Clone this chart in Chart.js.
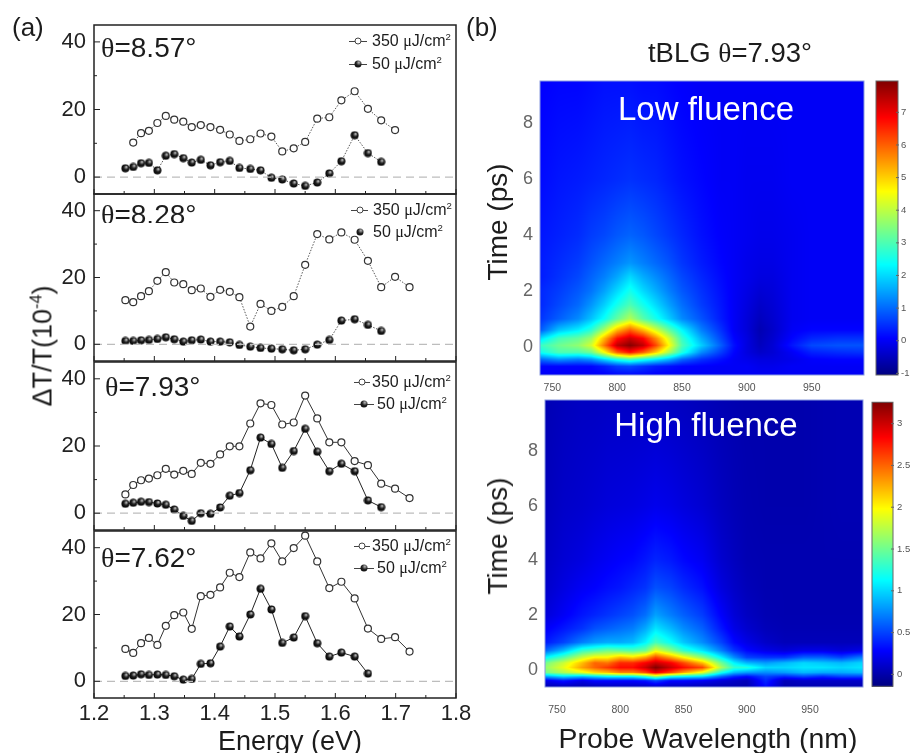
<!DOCTYPE html>
<html>
<head>
<meta charset="utf-8">
<title>tBLG transient transmission</title>
<script src="https://cdn.jsdelivr.net/npm/chart.js@4"></script>
<style>
    html, body { margin: 0; padding: 0; background: #fff; }
    #page { position: relative; width: 911px; height: 753px; overflow: hidden; font-family: "Liberation Sans", Arial, sans-serif; color: #1c1c1c; filter: blur(0.4px); }
    #page canvas { position: absolute; }
    .note { position: absolute; white-space: nowrap; line-height: 1; transform: translateY(-50%); }
    .turn { transform: translate(-50%, -50%) rotate(-90deg); }
    .mid { transform: translate(-50%, -50%); }
    .sym { font-family: "Liberation Serif", serif; }
    sup { font-size: 60%; line-height: 0; }
    .key { position: absolute; height: 1px; background: #444; }
    .dot { position: absolute; width: 7px; height: 7px; border-radius: 50%; box-sizing: border-box; transform: translate(-50%, -50%); }
    .hollow { background: #fff; border: 1px solid #444; }
    .ball { background: radial-gradient(circle at 62% 30%, #bbb, #222 42%, #000); }
</style>
</head>
<body>
<div id="page"></div>
<script>
    // photon energy of every probe point, eV
    var energies = [1.252, 1.265, 1.278, 1.291, 1.305, 1.319, 1.333, 1.348, 1.362, 1.377, 1.393, 1.409, 1.425, 1.441,
                    1.459, 1.476, 1.494, 1.512, 1.531, 1.550, 1.570, 1.590, 1.610, 1.632, 1.654, 1.676, 1.699, 1.723];

    var high857 = [null, 10.2, 13, 13.7, 16, 18.1, 17, 16.4, 14.8, 15.4, 14.8, 14, 12.6, 10.7, 11.2, 12.9, 12, 7.6, 8.5, 10.4, 17.3, 17.7, 22.7, 25.4, 20.2, 16.8, 13.9, null];
    var low857 = [2.6, 3, 4.1, 4.2, 2, 6.3, 6.8, 5.6, 4.3, 5.1, 3.5, 4.4, 4.8, 2.7, 2.4, 2, -0.2, -0.7, -1.9, -2.6, -1.6, 1.1, 4.7, 12.4, 7.1, 4.5, null, null];
    var high828 = [13.2, 12.6, 14.4, 15.9, 19, 21.6, 18.5, 18, 16.2, 16.7, 14.2, 16.3, 15.7, 14.1, 5.3, 12.1, 10, 11.2, 14.4, 23.8, 33, 31.4, 33.5, 31.3, 25, 17.1, 20.2, 17.1];
    var low828 = [1, 1, 1.2, 1.3, 1.6, 2.1, 1.5, 0.8, 1.2, 1.4, 0.8, 0.8, 0.6, -0.2, -0.7, -1.1, -1.3, -1.5, -1.8, -1.5, -0.1, 1.3, 7.1, 7.5, 5.8, 4, null, null];
    var high793 = [5.6, 8.4, 9.8, 10.3, 11.3, 13.2, 11.5, 12.6, 11.7, 15, 14.7, 17.5, 19.9, 19.9, 26.7, 32.7, 32.2, 26.4, 27, 35, 28.2, 21.1, 21.1, 15.5, 14.3, 8.8, 7.3, 4.5];
    var low793 = [2.8, 3.1, 3.4, 3.3, 2.9, 2.5, 1.1, -0.8, -2.3, 0, -0.2, 1.7, 5.2, 6, 12.8, 22.5, 20.6, 13.5, 18.5, 25.1, 18.3, 12.5, 14.7, 12.5, 3.8, 1.8, null, null];
    var high762 = [9.7, 8.5, 11.4, 13, 10.9, 16.6, 19.8, 20.6, 15.7, 25.5, 25.9, 28.1, 32.5, 31.2, 38.6, 36.8, 41.3, 35.9, 39.9, 43.6, 35.9, 27.9, 29.8, 24.8, 15.8, 12.7, 13.2, 8.9];
    var low762 = [1.6, 1.7, 2.1, 1.9, 2, 1.9, 1.5, 0.5, 0.7, 5.2, 5.4, 10.4, 16.4, 13.4, 20, 27.7, 21.5, 11.5, 13.1, 19.5, 11.4, 7.4, 8.6, 7.4, 2.3, null, null, null];

    var energyTicks = [1.2, 1.25, 1.3, 1.35, 1.4, 1.45, 1.5, 1.55, 1.6, 1.65, 1.7, 1.75, 1.8];
    var signalTicks = [0, 10, 20, 30, 40];
    var timeTicks = [0, 2, 4, 6, 8];
    var waveTicks = [750, 800, 850, 900, 950];
    var lowBarTicks = [-1, 0, 1, 2, 3, 4, 5, 6, 7];
    var highBarTicks = [0, 0.5, 1, 1.5, 2, 2.5, 3];

    // low fluence map, one row per time
    var lowWaves = [740, 755, 770, 780, 790, 800, 810, 820, 830, 840, 850, 865, 880, 890, 900, 910, 920, 935, 950, 970, 991];
    var lowTimes = [-1.05, -0.7, -0.45, -0.2, 0.05, 0.3, 0.6, 1, 1.5, 2, 2.5, 3, 4, 6, 9.6];
    var lowMap = [
        [0, 0, 0, 0, 0, .05, .05, .05, 0, 0, 0, 0, 0, 0, 0, 0, 0, 0, 0, 0, 0],
        [.1, .1, .1, .1, .3, .6, .7, .5, .3, .2, .1, .05, 0, 0, 0, -.1, -.1, 0, 0, 0, 0],
        [1, 1.4, 1.2, 1.4, 2, 2.6, 3, 2.6, 2.2, 1.7, 1, .5, .2, 0, -.1, -.2, -.2, -.1, .05, .1, .1],
        [2.4, 3, 3, 3.3, 4.5, 6, 6.7, 6, 5, 3.8, 2.6, 1.3, .6, .1, -.2, -.4, -.3, 0, .35, .45, .5],
        [2.8, 3.3, 3.6, 4.2, 5.8, 7.4, 7.9, 7.4, 6.2, 4.6, 3, 1.9, .9, .2, -.2, -.5, -.3, .25, .7, .8, .8],
        [2, 2.9, 3.2, 3.7, 5.2, 6.7, 7.3, 6.8, 5.6, 4.2, 2.8, 1.6, .7, .1, -.2, -.55, -.35, .1, .4, .5, .5],
        [.8, 1.8, 2.2, 2.7, 3.8, 5.2, 6, 5.2, 4.2, 3.2, 2.3, 1.2, .5, 0, -.25, -.6, -.4, 0, .1, .1, .1],
        [.5, .9, 1.3, 1.8, 2.4, 3.2, 3.9, 3.1, 2.5, 1.9, 1.3, .8, .3, 0, -.25, -.5, -.35, -.05, 0, 0, 0],
        [.4, .7, 1, 1.4, 1.9, 2.5, 3, 2.5, 2, 1.5, 1.05, .6, .25, 0, -.2, -.4, -.3, -.05, 0, 0, 0],
        [.4, .6, .85, 1.1, 1.5, 2, 2.5, 2, 1.6, 1.2, .85, .5, .2, 0, -.15, -.3, -.25, -.05, 0, 0, 0],
        [.3, .5, .7, .95, 1.2, 1.55, 2, 1.6, 1.3, 1, .7, .4, .15, 0, -.1, -.2, -.2, -.05, 0, 0, 0],
        [.3, .45, .6, .8, 1, 1.2, 1.4, 1.2, 1, .8, .55, .3, .1, 0, -.1, -.15, -.15, -.05, 0, 0, 0],
        [.25, .35, .45, .6, .7, .85, .95, .85, .7, .55, .4, .2, .05, 0, -.05, -.1, -.1, -.05, 0, 0, 0],
        [.15, .25, .3, .35, .4, .45, .5, .45, .4, .3, .2, .1, 0, 0, -.05, -.05, -.05, 0, 0, 0, 0],
        [.05, .1, .1, .15, .2, .2, .2, .15, .15, .1, .05, 0, 0, 0, 0, 0, 0, 0, 0, 0, 0]
    ];

    // high fluence map
    var highWaves = [740, 755, 770, 780, 790, 800, 810, 820, 828, 840, 850, 865, 880, 890, 900, 915, 930, 945, 960, 975, 992];
    var highTimes = [-0.65, -0.4, -0.25, -0.1, 0.08, 0.25, 0.45, 0.7, 1, 1.5, 2, 3, 4, 6, 9.9];
    var highMap = [
        [0, 0, 0, 0, .03, .03, .03, .03, .05, .03, .03, 0, 0, 0, 0, .3, 0, 0, 0, 0, 0],
        [.2, .35, .2, .3, .3, .3, .3, .35, .5, .3, .3, .25, .15, .1, .05, .4, .05, .1, .1, .1, .1],
        [.8, 1, .9, 1, 1.1, 1.1, 1.1, 1.3, 1.6, 1.2, 1.1, 1, .6, .4, .3, .5, .4, .5, .4, .5, .5],
        [1.5, 1.7, 1.9, 2.1, 2.2, 2.4, 2.4, 2.6, 2.9, 2.6, 2.3, 1.9, 1.2, .9, .8, .75, .8, .9, .85, .85, .9],
        [1.6, 1.9, 2.3, 2.5, 2.65, 2.8, 2.8, 3, 3.25, 3, 2.8, 2.6, 1.7, 1.3, 1.25, 1, 1, 1.05, 1.05, 1, 1.05],
        [1.5, 1.8, 2.2, 2.5, 2.45, 2.7, 2.7, 2.85, 3, 2.85, 2.6, 2.2, 1.5, 1.1, .9, .8, .9, 1, .95, .9, 1],
        [1.1, 1.4, 1.8, 2, 2, 2.2, 2.1, 2.3, 2.6, 2.3, 2, 1.6, 1.1, .75, .5, .45, .45, .6, .6, .5, .7],
        [.6, .9, 1.3, 1.4, 1.5, 1.45, 1.4, 1.5, 1.9, 1.6, 1.3, 1.05, .7, .45, .3, .2, .15, .2, .2, .15, .2],
        [.35, .5, .7, .8, .85, .85, .9, 1.1, 1.35, 1.15, .95, .75, .5, .3, .2, .1, .05, .05, .05, .05, .05],
        [.25, .35, .45, .55, .6, .65, .7, .85, 1.05, .9, .75, .6, .35, .2, .12, .05, .03, .03, .03, .03, .03],
        [.15, .25, .35, .4, .45, .5, .55, .65, .82, .7, .6, .48, .27, .15, .08, .03, .02, .02, .02, .02, .02],
        [.1, .18, .25, .28, .32, .35, .4, .45, .55, .5, .42, .33, .17, .1, .05, .02, .02, .02, .02, .02, .02],
        [.08, .14, .18, .22, .25, .28, .3, .35, .4, .36, .3, .24, .12, .07, .03, .02, .02, .02, .02, .02, .02],
        [.05, .1, .12, .14, .16, .17, .18, .2, .22, .2, .17, .13, .07, .04, .02, .01, .01, .01, .02, .03, .03],
        [.03, .06, .08, .08, .09, .09, .09, .09, .09, .08, .07, .05, .03, .02, .01, .01, .01, .01, .02, .03, .03]
    ];

    var page = document.getElementById("page");
    var MARGIN = 15;

    Chart.defaults.font.family = '"Liberation Sans", Arial, sans-serif';
    Chart.defaults.animation = false;
    Chart.defaults.responsive = false;

    function addCanvas(left, top, width, height) {
        var c = document.createElement("canvas");
        c.width = width;
        c.height = height;
        c.style.left = left + "px";
        c.style.top = top + "px";
        page.appendChild(c);
        return c;
    }

    function addNote(html, x, y, size, extra) {
        var d = document.createElement("div");
        d.className = "note " + ((extra && extra.cls) || "");
        d.innerHTML = html;
        d.style.left = x + "px";
        d.style.top = y + "px";
        d.style.fontSize = size + "px";
        if (extra && extra.color) d.style.color = extra.color;
        if (extra && extra.clip) d.style.clipPath = "inset(0 0 " + extra.clip + "px 0)";
        page.appendChild(d);
    }

    function addKey(x1, x2, y, kind, noLine) {
        if (!noLine) {
            var l = document.createElement("div");
            l.className = "key";
            l.style.left = x1 + "px";
            l.style.width = (x2 - x1) + "px";
            l.style.top = y + "px";
            page.appendChild(l);
        }
        var d = document.createElement("div");
        d.className = "dot " + kind;
        d.style.left = (x1 + x2) / 2 + "px";
        d.style.top = y + "px";
        page.appendChild(d);
    }

    // stop label overhang from moving the plot area, it has to sit at fixed pixels
    function noMargins(s) {
        s.paddingTop = 0;
        s.paddingBottom = 0;
        s.paddingLeft = 0;
        s.paddingRight = 0;
    }

    // black ball used as the marker of the low fluence curves
    function makeBall() {
        var c = document.createElement("canvas");
        c.width = 9;
        c.height = 9;
        var g = c.getContext("2d");
        var grad = g.createRadialGradient(5.6, 3, 0.3, 4.5, 4.5, 4.5);
        grad.addColorStop(0, "#c4c4c4");
        grad.addColorStop(0.45, "#1d1d1d");
        grad.addColorStop(1, "#000");
        g.fillStyle = grad;
        g.beginPath();
        g.arc(4.5, 4.5, 4, 0, Math.PI * 2);
        g.fill();
        return c;
    }
    var ball = makeBall();

    // frame and inward ticks of the spectrum panels
    var panelFrame = {
        id: "panelFrame",
        afterDraw: function (chart) {
            var a = chart.chartArea, ctx = chart.ctx;
            ctx.save();
            ctx.strokeStyle = "#222";
            ctx.lineWidth = 1.5;
            ctx.strokeRect(a.left, a.top, a.right - a.left, a.bottom - a.top);
            ctx.lineWidth = 1;
            ctx.beginPath();
            chart.scales.x.ticks.forEach(function (t) {
                var p = chart.scales.x.getPixelForValue(t.value);
                var major = Math.abs(t.value * 10 - Math.round(t.value * 10)) < 1e-6;
                ctx.moveTo(p, a.bottom);
                ctx.lineTo(p, a.bottom - (major ? 5 : 3));
            });
            chart.scales.y.ticks.forEach(function (t) {
                var p = chart.scales.y.getPixelForValue(t.value);
                ctx.moveTo(a.left, p);
                ctx.lineTo(a.left + (t.value % 20 === 0 ? 6 : 3), p);
            });
            ctx.stroke();
            ctx.restore();
        }
    };

    function points(values) {
        return values.map(function (v, i) {
            return { x: energies[i], y: v };
        });
    }

    function makePanel(top, bottom, high, low, dotted, isLast) {
        var lineDash = dotted ? [1.5, 1.5] : [];
        var xHeight = isLast ? 40 : 0;
        var c = addCanvas(0, top - MARGIN, 480, bottom - top + 2 * MARGIN + xHeight);
        new Chart(c, {
            type: "scatter",
            data: {
                datasets: [
                    {
                        data: [{ x: 1.2, y: 0 }, { x: 1.8, y: 0 }],
                        showLine: true,
                        borderColor: "#bdbdbd",
                        borderWidth: 1.3,
                        borderDash: [8, 5],
                        pointRadius: 0
                    },
                    {
                        label: "350 \u03bcJ/cm2",
                        data: points(high),
                        showLine: true,
                        borderColor: dotted ? "#444" : "#333",
                        borderWidth: dotted ? 0.9 : 1,
                        borderDash: lineDash,
                        pointRadius: 3.5,
                        pointBorderWidth: 1.2,
                        pointBorderColor: "#333",
                        pointBackgroundColor: "#fff"
                    },
                    {
                        label: "50 \u03bcJ/cm2",
                        data: points(low),
                        showLine: true,
                        borderColor: dotted ? "#444" : "#222",
                        borderWidth: dotted ? 0.9 : 1,
                        borderDash: lineDash,
                        pointStyle: ball
                    }
                ]
            },
            options: {
                layout: { padding: { top: MARGIN, bottom: MARGIN, right: 24 } },
                plugins: { legend: { display: false }, tooltip: { enabled: false } },
                scales: {
                    x: {
                        type: "linear",
                        min: 1.2,
                        max: 1.8,
                        grid: { display: false, drawTicks: false },
                        border: { display: false },
                        afterBuildTicks: function (s) {
                            s.ticks = energyTicks.map(function (v) { return { value: v }; });
                        },
                        afterFit: function (s) { s.height = xHeight; noMargins(s); },
                        ticks: {
                            display: isLast,
                            autoSkip: false,
                            maxRotation: 0,
                            padding: 3,
                            color: "#222",
                            font: { size: 22 },
                            callback: function (v) {
                                var major = Math.abs(v * 10 - Math.round(v * 10)) < 1e-6;
                                return major ? v.toFixed(1) : "";
                            }
                        }
                    },
                    y: {
                        min: -5,
                        max: 45,
                        grid: { display: false, drawTicks: false },
                        border: { display: false },
                        afterBuildTicks: function (s) {
                            s.ticks = signalTicks.map(function (v) { return { value: v }; });
                        },
                        afterFit: function (s) { s.width = 94; noMargins(s); },
                        ticks: {
                            autoSkip: false,
                            padding: 8,
                            color: "#222",
                            font: { size: 22 },
                            callback: function (v) { return v % 20 === 0 ? String(v) : ""; }
                        }
                    }
                }
            },
            plugins: [panelFrame]
        });
    }

    makePanel(25, 194, high857, low857, true, false);
    makePanel(194, 361, high828, low828, true, false);
    makePanel(362, 530, high793, low793, false, false);
    makePanel(530.5, 697.5, high762, low762, false, true);

    function jet(t) {
        function part(k) {
            return Math.max(0, Math.min(1, 1.5 - Math.abs(4 * t - k))) * 255;
        }
        return [part(3), part(2), part(1)];
    }

    function bracket(list, v) {
        var i = 0;
        while (i < list.length - 2 && list[i + 1] < v) i++;
        var f = (v - list[i]) / (list[i + 1] - list[i]);
        return [i, Math.max(0, Math.min(1, f))];
    }

    // paints the map through the x and y scales, then the colour bar through the bar scale
    function heatPlugin(waves, times, vmin, vmax, barLeft, barRight) {
        return {
            id: "heat",
            beforeDatasetsDraw: function (chart) {
                var a = chart.chartArea, ctx = chart.ctx;
                var cells = chart.data.datasets[0].data;
                var n = waves.length;
                var w = Math.round(a.right - a.left), h = Math.round(a.bottom - a.top);
                var off = document.createElement("canvas");
                off.width = w;
                off.height = h;
                var g = off.getContext("2d");
                var img = g.createImageData(w, h);
                for (var py = 0; py < h; py++) {
                    var ty = bracket(times, chart.scales.y.getValueForPixel(a.top + py + 0.5));
                    for (var px = 0; px < w; px++) {
                        var tx = bracket(waves, chart.scales.x.getValueForPixel(a.left + px + 0.5));
                        var r0 = ty[0] * n + tx[0], r1 = r0 + n;
                        var top = cells[r1].v * (1 - tx[1]) + cells[r1 + 1].v * tx[1];
                        var bot = cells[r0].v * (1 - tx[1]) + cells[r0 + 1].v * tx[1];
                        var col = jet((bot + (top - bot) * ty[1] - vmin) / (vmax - vmin));
                        var o = (py * w + px) * 4;
                        img.data[o] = col[0];
                        img.data[o + 1] = col[1];
                        img.data[o + 2] = col[2];
                        img.data[o + 3] = 255;
                    }
                }
                g.putImageData(img, 0, 0);
                ctx.drawImage(off, a.left, a.top, a.right - a.left, a.bottom - a.top);
                ctx.save();
                ctx.strokeStyle = "#8a9be0";
                ctx.lineWidth = 1;
                ctx.strokeRect(a.left, a.top, a.right - a.left, a.bottom - a.top);

                var bar = chart.scales.bar;
                var yTop = bar.getPixelForValue(vmax), yBot = bar.getPixelForValue(vmin);
                for (var y = Math.floor(yTop); y < yBot; y++) {
                    var c = jet((bar.getValueForPixel(y + 0.5) - vmin) / (vmax - vmin));
                    ctx.fillStyle = "rgb(" + c[0] + "," + c[1] + "," + c[2] + ")";
                    ctx.fillRect(barLeft, y, barRight - barLeft, 1);
                }
                ctx.strokeStyle = "#666";
                ctx.strokeRect(barLeft, yTop, barRight - barLeft, yBot - yTop);
                ctx.beginPath();
                bar.ticks.forEach(function (t) {
                    var p = bar.getPixelForValue(t.value);
                    ctx.moveTo(barRight - 2, p);
                    ctx.lineTo(barRight + 1, p);
                });
                ctx.stroke();
                ctx.restore();
            }
        };
    }

    function makeHeat(cfg) {
        var width = 911 - 470;
        var c = addCanvas(470, cfg.top - MARGIN, width, cfg.bottom - cfg.top + 2 * MARGIN + 36);
        var cells = [];
        cfg.times.forEach(function (t, r) {
            cfg.waves.forEach(function (w, k) {
                cells.push({ x: w, y: t, v: cfg.map[r][k] });
            });
        });
        new Chart(c, {
            type: "scatter",
            data: { datasets: [{ data: cells, pointRadius: 0, yAxisID: "y" }] },
            options: {
                layout: { padding: { top: MARGIN, bottom: MARGIN } },
                plugins: { legend: { display: false }, tooltip: { enabled: false } },
                scales: {
                    x: {
                        type: "linear",
                        min: cfg.xMin,
                        max: cfg.xMax,
                        grid: { display: false, drawTicks: false },
                        border: { display: false },
                        afterBuildTicks: function (s) {
                            s.ticks = waveTicks.map(function (v) { return { value: v }; });
                        },
                        afterFit: function (s) { s.height = 36; noMargins(s); },
                        ticks: { autoSkip: false, maxRotation: 0, padding: cfg.xPad, color: "#555", font: { size: 10.5 } }
                    },
                    y: {
                        min: cfg.yMin,
                        max: cfg.yMax,
                        grid: { display: false, drawTicks: false },
                        border: { display: false },
                        afterBuildTicks: function (s) {
                            s.ticks = timeTicks.map(function (v) { return { value: v }; });
                        },
                        afterFit: function (s) { s.width = cfg.left - 470; noMargins(s); },
                        ticks: { autoSkip: false, padding: 7, color: "#666", font: { size: 18 } }
                    },
                    bar: {
                        position: "right",
                        min: cfg.barMin,
                        max: cfg.barMax,
                        grid: { display: false, drawTicks: false },
                        border: { display: false },
                        afterBuildTicks: function (s) {
                            s.ticks = cfg.barTicks.map(function (v) { return { value: v }; });
                        },
                        afterFit: function (s) { s.width = 911 - cfg.right; noMargins(s); },
                        ticks: {
                            autoSkip: false,
                            padding: cfg.barPad,
                            color: "#555",
                            font: { size: 9.5 },
                            callback: function (v) { return String(v); }
                        }
                    }
                }
            },
            plugins: [heatPlugin(cfg.waves, cfg.times, cfg.vmin, cfg.vmax, cfg.barLeft - 470, cfg.barRight - 470)]
        });
    }

    makeHeat({
        left: 540, right: 864, top: 81, bottom: 375,
        waves: lowWaves, times: lowTimes, map: lowMap,
        xMin: 740.5, xMax: 990.3, yMin: -1.01, yMax: 9.52, xPad: 7,
        barTicks: lowBarTicks, barMin: -1.05, barMax: 7.96, barPad: 37,
        vmin: -1.05, vmax: 7.96, barLeft: 876, barRight: 898
    });
    makeHeat({
        left: 545, right: 863, top: 400, bottom: 687,
        waves: highWaves, times: highTimes, map: highMap,
        xMin: 740.5, xMax: 991.9, yMin: -0.63, yMax: 9.86, xPad: 17,
        barTicks: highBarTicks, barMin: -0.151, barMax: 3.283, barPad: 34,
        vmin: -0.143, vmax: 3.256, barLeft: 872, barRight: 893
    });

    var THETA = '<span class="sym">\u03b8</span>';
    var MU = '<span class="sym">\u03bc</span>';

    // panel letters, titles and axis names
    addNote("(a)", 12, 27, 26);
    addNote("(b)", 466, 27, 26);
    addNote("\u0394T/T(10<sup>-4</sup>)", 43, 346, 27, { cls: "turn" });
    addNote("Energy (eV)", 290, 741, 27, { cls: "mid" });
    addNote("tBLG " + THETA + "=7.93\u00b0", 730, 53, 27.5, { cls: "mid" });
    addNote("Time (ps)", 498, 222, 28, { cls: "turn" });
    addNote("Time (ps)", 498, 536, 28, { cls: "turn" });
    addNote("Probe Wavelength (nm)", 708, 738, 28.4, { cls: "mid" });
    addNote("Low fluence", 706, 108, 33, { cls: "mid", color: "#fff" });
    addNote("High fluence", 706, 424, 33, { cls: "mid", color: "#fff" });

    // angle labels
    addNote(THETA + "=8.57\u00b0", 101, 48, 28);
    addNote(THETA + "=8.28\u00b0", 101, 215, 28, { clip: 6 });
    addNote(THETA + "=7.93\u00b0", 105, 387, 28);
    addNote(THETA + "=7.62\u00b0", 101, 558, 28);

    // legends
    var hiText = "350 " + MU + "J/cm<sup>2</sup>", loText = "50 " + MU + "J/cm<sup>2</sup>";
    addKey(349, 367, 41, "hollow");
    addNote(hiText, 372, 41, 16);
    addKey(349, 367, 64, "ball");
    addNote(loText, 372, 64, 16);
    addKey(351, 368, 210, "hollow");
    addNote(hiText, 373, 210, 16);
    addKey(351, 368, 232, "ball", true);
    addNote(loText, 373, 232, 16);
    addKey(354, 370, 382, "hollow");
    addNote(hiText, 372, 382, 16);
    addKey(354, 374, 404, "ball");
    addNote(loText, 377, 404, 16);
    addKey(354, 370, 546, "hollow");
    addNote(hiText, 372, 546, 16);
    addKey(354, 374, 568, "ball");
    addNote(loText, 377, 568, 16);
</script>
</body>
</html>
